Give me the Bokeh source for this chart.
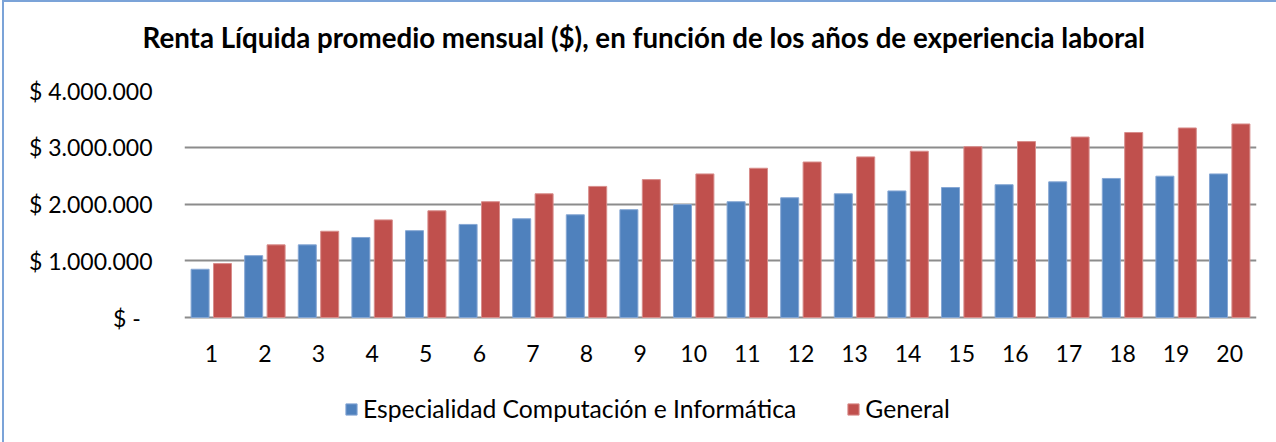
from bokeh.plotting import figure
from bokeh.models import (ColumnDataSource, FactorRange, Range1d, FixedTicker,
                          Legend, LegendItem, Title)
from bokeh.transform import dodge
from bokeh.embed import file_html
from bokeh.resources import INLINE

# ---- data ----
years = [str(i) for i in range(1, 21)]
computacion = [850000, 1090000, 1280000, 1410000, 1530000, 1640000, 1740000,
               1810000, 1900000, 1990000, 2040000, 2110000, 2180000, 2230000,
               2290000, 2340000, 2390000, 2450000, 2490000, 2530000]
general = [950000, 1280000, 1520000, 1720000, 1880000, 2040000, 2180000,
           2310000, 2430000, 2530000, 2630000, 2740000, 2830000, 2930000,
           3010000, 3100000, 3180000, 3260000, 3340000, 3410000]
y_ticks = [0, 1000000, 2000000, 3000000, 4000000]
y_tick_labels = ["$ -\u00a0\u00a0", "$ 1.000.000", "$ 2.000.000", "$ 3.000.000", "$ 4.000.000"]
title_text = "Renta Líquida promedio mensual ($), en función de los años de experiencia laboral"
series_names = ["Especialidad Computación e Informática", "General"]

FONT = "Lato"

# ---- layout geometry (pixels) ----
W, H = 1276, 442
TOP, BASE = 90, 317          # pixel rows of the 4.000.000 gridline and of the zero line
y_max = y_ticks[-1]
y_min = -y_max * (H - BASE) / (BASE - TOP)   # frame continues below zero to hold labels/legend

src = ColumnDataSource(dict(years=years, comp=computacion, general=general))

p = figure(x_range=FactorRange(factors=years, range_padding=0),
           y_range=Range1d(y_min, y_max),
           width=W, height=H,
           output_backend="svg", toolbar_location=None,
           min_border_left=184, min_border_right=20,
           min_border_top=TOP, min_border_bottom=0,
           title=title_text)
p.outline_line_color = None
p.background_fill_color = "white"
p.border_fill_alpha = 0
p.styles = {"box-shadow": "inset 2px 0 0 0 white, inset 4px 2px 0 0 #7ba3d8"}

r1 = p.vbar(x=dodge("years", -0.209, range=p.x_range), top="comp", width=0.336,
            source=src, fill_color="#4F81BD", line_color="#86a7d4", line_width=1)
r2 = p.vbar(x=dodge("years", 0.209, range=p.x_range), top="general", width=0.336,
            source=src, fill_color="#C0504D", line_color="#d88d8b", line_width=1)

# title (outermost in the "above" panel) + spacer between title and frame
p.title.align = "left"
p.title.offset = -42
p.title.standoff = 0
p.title.text_font = FONT
p.title.text_font_style = "bold"
p.title.text_font_size = "27.7px"
p.title.text_color = "black"
p.add_layout(Title(text=" ", text_font_size="1px", standoff=34), "above")

# x axis drawn on the zero line
p.xaxis.fixed_location = 0
p.xaxis.axis_line_color = None
p.xaxis.major_tick_line_color = None
p.xaxis.minor_tick_line_color = None
p.xaxis.major_label_text_font = FONT
p.xaxis.major_label_text_font_size = "23px"
p.xaxis.major_label_text_color = "black"
p.xaxis.major_label_standoff = 21

p.yaxis.ticker = FixedTicker(ticks=y_ticks)
p.yaxis.major_label_overrides = {t: l for t, l in zip(y_ticks, y_tick_labels)}
p.yaxis.axis_line_color = None
p.yaxis.major_tick_line_color = None
p.yaxis.minor_tick_line_color = None
p.yaxis.major_tick_out = 0
p.yaxis.major_tick_in = 0
p.yaxis.major_label_text_font = FONT
p.yaxis.major_label_text_font_size = "23px"
p.yaxis.major_label_text_color = "black"
p.yaxis.major_label_standoff = 32

p.xgrid.grid_line_color = None
p.ygrid.grid_line_color = "#8c8c8c"
p.ygrid.grid_line_width = 2

legend = Legend(items=[LegendItem(label=series_names[0], renderers=[r1]),
                       LegendItem(label=series_names[1], renderers=[r2])],
                orientation="horizontal", location=(160, 19),
                glyph_width=14, glyph_height=14, label_standoff=5, spacing=50,
                padding=0, margin=0, border_line_color=None,
                background_fill_alpha=0,
                label_text_font=FONT, label_text_font_size="24.7px",
                label_text_color="black")
p.add_layout(legend)

open("out.html", "w").write(file_html(p, INLINE))
